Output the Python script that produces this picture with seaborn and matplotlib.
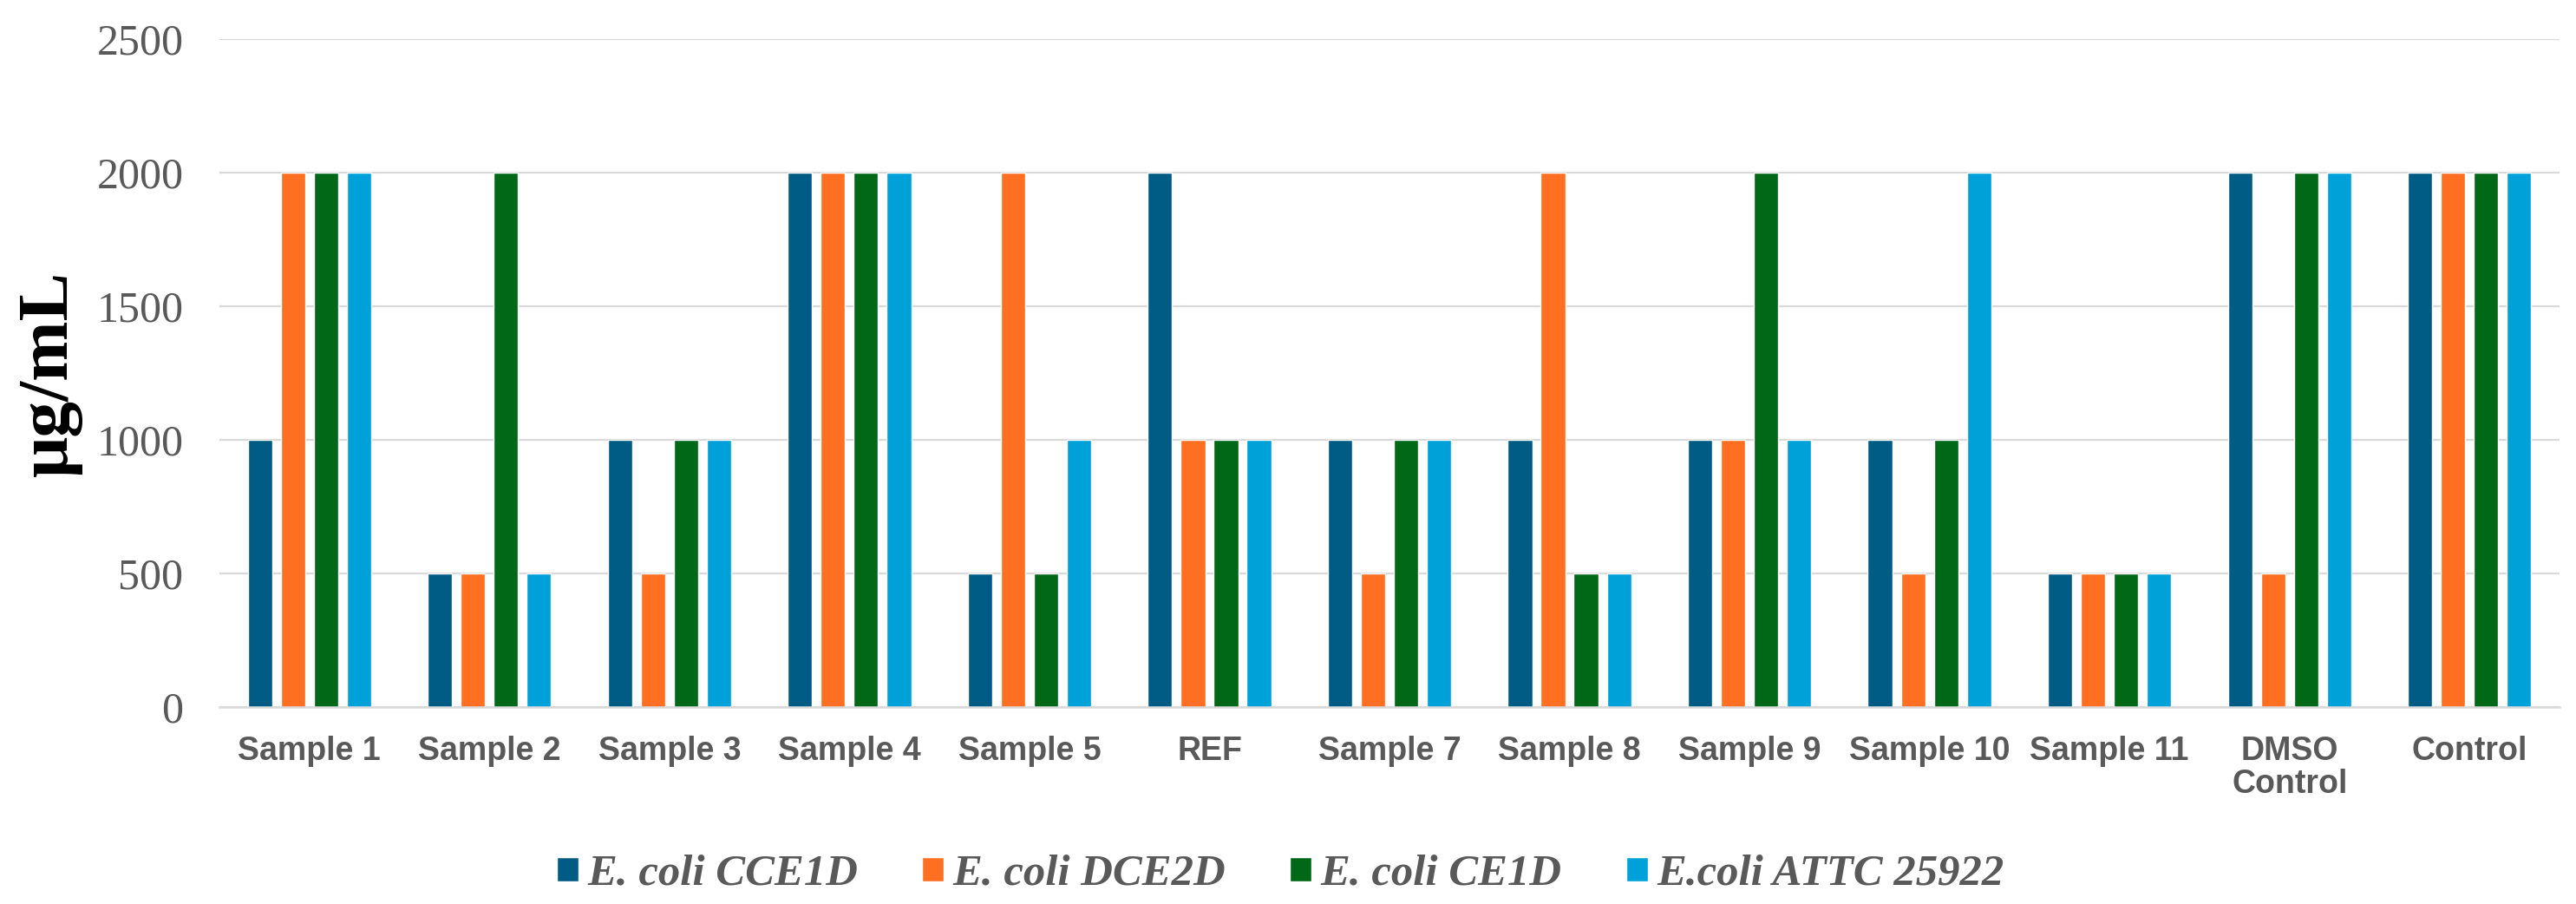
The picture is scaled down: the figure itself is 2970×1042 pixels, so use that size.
import pandas as pd
import numpy as np
import matplotlib.pyplot as plt
import seaborn as sns

# sample names on the x axis
samples = ['Sample 1', 'Sample 2', 'Sample 3', 'Sample 4', 'Sample 5', 'REF',
           'Sample 7', 'Sample 8', 'Sample 9', 'Sample 10', 'Sample 11',
           'DMSO\nControl', 'Control']

strains = ['E. coli CCE1D', 'E. coli DCE2D', 'E. coli CE1D', 'E.coli ATTC 25922']

# values in ug/mL for each strain, one per sample
cce1d = [1000, 500, 1000, 2000, 500, 2000, 1000, 1000, 1000, 1000, 500, 2000, 2000]
dce2d = [2000, 500, 500, 2000, 2000, 1000, 500, 2000, 1000, 500, 500, 500, 2000]
ce1d = [2000, 2000, 1000, 2000, 500, 1000, 1000, 500, 2000, 1000, 500, 2000, 2000]
attc = [2000, 500, 1000, 2000, 1000, 1000, 1000, 500, 1000, 2000, 500, 2000, 2000]

colours = ['#005C84', '#FF6F22', '#006817', '#00A1D8']

#long form table for seaborn
rows = []
for strain, vals in zip(strains, [cce1d, dce2d, ce1d, attc]):
    for s, v in zip(samples, vals):
        rows.append({'sample': s, 'strain': strain, 'value': v})
df = pd.DataFrame(rows)

sns.set_style('white')
grey = '#595959'

fig = plt.figure(figsize=(29.7, 10.42), dpi=100)
ax = fig.add_axes([253/2970, 1-815/1042, (2951-253)/2970, (815-45)/1042])

sns.barplot(data=df, x='sample', y='value', hue='strain', order=samples,
            hue_order=strains, palette=colours, width=0.733, gap=0.26,
            errorbar=None, saturation=1, ax=ax)

ax.set_ylim(0, 2500)
ax.set_yticks([0, 500, 1000, 1500, 2000, 2500])
ax.yaxis.grid(True, color='#D9D9D9', linewidth=1.6)
ax.set_axisbelow(True)
for side in ['top', 'left', 'right']:
    ax.spines[side].set_visible(False)
ax.spines['bottom'].set_color('#D9D9D9')
ax.spines['bottom'].set_linewidth(1.8)

ax.tick_params(axis='both', length=0)
ax.tick_params(axis='y', pad=30, labelcolor=grey)
ax.tick_params(axis='x', pad=24, labelcolor=grey)
for lab in ax.get_yticklabels():
    lab.set_fontfamily('Liberation Serif')
    lab.set_fontsize(36)
for lab in ax.get_xticklabels():
    lab.set_fontfamily('Liberation Sans')
    lab.set_fontweight('bold')
    lab.set_fontsize(27)
    lab.set_linespacing(1.05)

ax.set_xlabel('')
ax.set_ylabel('\u03bcg/mL', fontfamily='Liberation Serif', fontweight='bold',
              fontsize=60, color='black')
# label anchor is the right side of the rotated text
ax.yaxis.set_label_coords((95-253)/2698, 0.5)

ax.legend_.remove()
handles, labels = ax.get_legend_handles_labels()
fig.legend(handles, labels, loc='center', bbox_to_anchor=(1476/2970, 1-1008/1042),
           ncol=4, frameon=False, handlelength=0.5, handleheight=0.5,
           handletextpad=0.2, columnspacing=1.46, labelcolor=grey,
           prop={'family': 'Liberation Serif', 'weight': 'bold',
                 'style': 'italic', 'size': 36.5})

fig.savefig('out.png', dpi=100)
